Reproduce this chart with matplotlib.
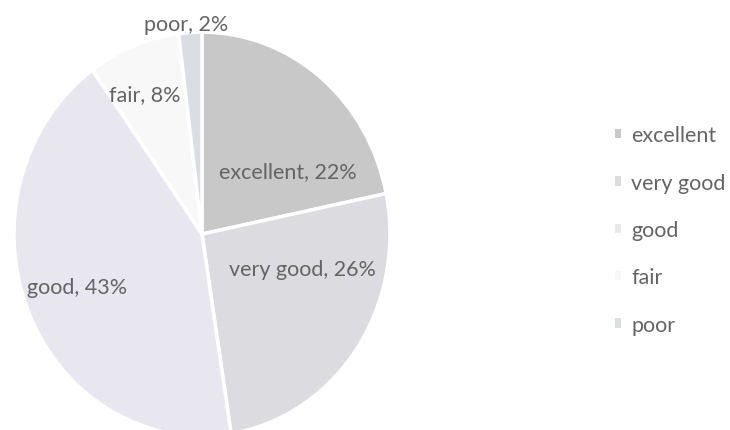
import matplotlib.pyplot as plt
from matplotlib.patches import Patch

categories = ['excellent', 'very good', 'good', 'fair', 'poor']
shares = [22, 26, 43, 8, 2]
colors = ['#c8c8c8', '#dcdce0', '#e8e6ee', '#f8f8f8', '#dcdce4']
# label positions (axes fraction of pie axes)
label_pos = [(0.729, 0.656), (0.766, 0.413), (0.168, 0.369), (0.348, 0.847), (0.457, 1.020)]

plt.rcParams['font.family'] = ['Lato', 'DejaVu Sans']

fig = plt.figure(figsize=(7.3, 4.31), dpi=100)
# the scanned pie is a bit taller than wide
ax = fig.add_axes([0.0192, -0.0139, 0.515, 0.937])
wedges, _ = ax.pie(shares, colors=colors, startangle=90, counterclock=False,
                   wedgeprops=dict(edgecolor='white', linewidth=2.5))
ax.set_xlim(-1, 1)
ax.set_ylim(-1, 1)
ax.set_aspect('auto')

for name, val, (x, y) in zip(categories, shares, label_pos):
    ax.text(x, y, f'{name}, {val}%', transform=ax.transAxes, ha='center', va='center',
            fontsize=15.5, color='#646464')

handles = [Patch(facecolor=w.get_facecolor(), edgecolor='none') for w in wedges]
fig.legend(handles, categories, loc='center left', bbox_to_anchor=(0.843, 0.464),
           frameon=False, fontsize=15.5, labelcolor='#646464', borderpad=0, borderaxespad=0,
           handlelength=0.28, handleheight=0.28, handletextpad=0.45, labelspacing=1.27)

fig.savefig('out.png', dpi=100)
